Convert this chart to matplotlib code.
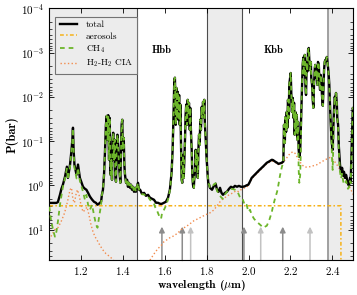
import numpy as np
import matplotlib.pyplot as plt

plt.rcParams['font.family'] = 'serif'
plt.rcParams['font.serif'] = ['cmr10']
plt.rcParams['mathtext.fontset'] = 'cm'
plt.rcParams['axes.formatter.use_mathtext'] = True

# window 1 (1.05 - 1.30 um): total and CH4 on one grid
w1_lam = [1.050, 1.058, 1.068, 1.077, 1.084, 1.091, 1.101, 1.108, 1.115, 1.125, 1.134,
          1.139, 1.149, 1.156, 1.160, 1.163, 1.166, 1.170, 1.180, 1.187, 1.196, 1.211,
          1.220, 1.227, 1.235, 1.244, 1.254, 1.263, 1.273, 1.280, 1.287, 1.297, 1.301]
w1_tot = [2.5, 2.5, 2.5, 2.5, 2.5, 2.4, 1.64, 1.2, 0.97, 0.64, 0.38,
          0.68, 0.34, 0.16, 0.094, 0.05, 0.16, 0.34, 0.58, 0.34, 0.68, 1.08,
          1.2, 1.26, 1.48, 1.8, 2.1, 2.35, 2.5, 2.75, 2.6, 2.35, 1.64]
w1_ch4 = [3.06, 6.0, 10.1, 14.5, 11.2, 6.7, 2.76, 1.73, 1.08, 0.7, 0.42,
          0.75, 0.38, 0.17, 0.1, 0.052, 0.17, 0.4, 0.7, 0.4, 0.8, 1.4,
          2.12, 1.64, 2.76, 3.57, 2.76, 4.63, 7.8, 9.1, 5.4, 2.76, 1.64]

# 1.4 um methane band (total == CH4)
b1_lam = [1.306, 1.311, 1.316, 1.320, 1.324, 1.328, 1.331, 1.335, 1.338, 1.342, 1.346,
          1.349, 1.352, 1.355, 1.359, 1.362, 1.365, 1.368, 1.371, 1.375, 1.379, 1.382,
          1.386, 1.389, 1.392, 1.395, 1.398, 1.401, 1.405, 1.408, 1.411, 1.416, 1.421,
          1.425, 1.430, 1.435, 1.440, 1.444, 1.449, 1.454, 1.459, 1.463, 1.468, 1.473]
b1_p = [1.26, 0.58, 0.158, 0.043, 0.027, 0.094, 0.026, 0.265, 0.030, 0.58, 0.265,
        0.75, 0.094, 0.065, 0.265, 0.094, 0.58, 0.83, 0.158, 0.072, 0.135, 0.344,
        0.58, 0.88, 0.158, 0.043, 0.033, 0.158, 0.085, 0.344, 0.58, 0.88, 0.75,
        1.08, 0.88, 1.14, 0.97, 1.26, 1.08, 1.40, 1.14, 1.40, 1.08, 0.88]

# window 2 (H band continuum)
w2_lam = [1.478, 1.483, 1.492, 1.502, 1.511, 1.521, 1.530, 1.540, 1.549, 1.554, 1.559,
          1.564, 1.568, 1.573, 1.578, 1.583, 1.587, 1.597, 1.606, 1.616, 1.625, 1.633, 1.638]
w2_tot = [1.26, 1.26, 1.56, 1.48, 1.73, 1.64, 1.91, 2.02, 2.12, 2.3, 2.48,
          2.48, 2.48, 2.55, 2.62, 2.62, 2.62, 2.48, 2.36, 1.91, 1.26, 0.52, 0.158]
w2_ch4 = [1.26, 1.33, 1.6, 1.6, 1.82, 1.8, 2.12, 2.3, 2.6, 3.06, 3.4,
          3.76, 4.2, 4.88, 5.5, 5.7, 4.4, 3.57, 2.9, 2.12, 1.33, 0.55, 0.158]

# 1.7 um methane band
bh_lam = [1.643, 1.646, 1.649, 1.653, 1.656, 1.659, 1.662, 1.665, 1.669, 1.672, 1.675,
          1.678, 1.681, 1.684, 1.688, 1.691, 1.694, 1.697, 1.700, 1.703, 1.707, 1.710,
          1.713, 1.716, 1.720, 1.722, 1.726, 1.729, 1.732, 1.735, 1.739, 1.741, 1.745,
          1.748, 1.751, 1.754, 1.758, 1.761, 1.764, 1.767, 1.770, 1.773, 1.777, 1.780,
          1.783, 1.786, 1.789, 1.792, 1.796, 1.799, 1.802, 1.805, 1.808, 1.812]
bh_p = [0.0198, 0.0042, 0.0037, 0.043, 0.0063, 0.030, 0.0077, 0.033, 0.0091, 0.043, 0.015,
        0.094, 0.75, 0.88, 0.205, 0.68, 0.265, 0.094, 0.0256, 0.015, 0.043, 0.0117,
        0.0256, 0.0137, 0.056, 0.0178, 0.072, 0.158, 0.58, 0.97, 1.14, 0.75, 0.447,
        0.158, 0.344, 0.205, 0.68, 0.158, 0.072, 0.122, 0.033, 0.056, 0.0169, 0.030,
        0.013, 0.0256, 0.0117, 0.043, 0.094, 0.205, 0.344, 0.58, 0.88, 0.97]

# window 3 (K band continuum)
w3_lam = [1.816, 1.826, 1.835, 1.843, 1.850, 1.857, 1.864, 1.871, 1.878, 1.888, 1.897,
          1.907, 1.916, 1.926, 1.935, 1.945, 1.954, 1.964, 1.973, 1.983, 1.991, 1.999,
          2.007, 2.015, 2.026, 2.039, 2.050, 2.063, 2.071, 2.079, 2.087, 2.098, 2.111,
          2.117, 2.126, 2.136, 2.142, 2.150, 2.158, 2.166]
w3_tot = [1.14, 1.26, 1.03, 0.92, 1.26, 1.40, 1.14, 1.48, 1.64, 1.48, 1.40,
          1.2, 1.08, 1.14, 1.03, 1.08, 1.03, 1.08, 1.08, 1.05, 1.0, 0.97,
          0.82, 0.68, 0.6, 0.52, 0.46, 0.40, 0.37, 0.34, 0.31, 0.29, 0.265,
          0.27, 0.29, 0.31, 0.327, 0.32, 0.31, 0.29]
w3_ch4 = [1.14, 1.1, 0.95, 0.9, 1.35, 1.5, 1.73, 1.9, 2.02, 1.6, 1.4,
          1.26, 1.2, 1.22, 1.26, 1.33, 1.64, 2.12, 2.12, 2.9, 2.76, 3.96,
          3.57, 4.63, 5.7, 6.7, 7.4, 8.4, 9.1, 8.6, 8.2, 6.3, 4.0,
          2.9, 2.02, 1.4, 1.0, 0.6, 0.4, 0.29]

# 2.2 - 2.4 um methane band
k1_lam = [2.169, 2.173, 2.175, 2.179, 2.182, 2.185, 2.188, 2.192, 2.194, 2.198, 2.201,
          2.204, 2.207, 2.211, 2.214, 2.217, 2.220, 2.223, 2.226, 2.230, 2.233, 2.236]
k1_p = [0.043, 0.11, 0.029, 0.062, 0.022, 0.050, 0.0117, 0.030, 0.0054, 0.0037, 0.0029,
        0.0091, 0.022, 0.0106, 0.030, 0.0137, 0.072, 0.022, 0.065, 0.0256, 0.094, 0.037]
wk_lam = [2.239, 2.242, 2.246, 2.249]
wk_tot = [0.158, 0.227, 0.175, 0.056]
wk_ch4 = [0.45, 0.88, 0.6, 0.2]
k2_lam = [2.252, 2.255, 2.258, 2.261, 2.265, 2.268, 2.271, 2.274, 2.277, 2.280, 2.284,
          2.287, 2.290, 2.293, 2.297, 2.299, 2.303, 2.306, 2.309, 2.312, 2.316, 2.318,
          2.322, 2.325, 2.328, 2.331, 2.335, 2.338, 2.341, 2.344, 2.347, 2.350, 2.354,
          2.357, 2.360, 2.363, 2.366, 2.369, 2.373, 2.376, 2.379, 2.382, 2.385, 2.389,
          2.392, 2.395]
k2_p = [0.015, 0.0054, 0.0019, 0.0013, 0.0032, 0.00113, 0.0054, 0.0091, 0.00163, 0.0027, 0.00087,
        0.00079, 0.00163, 0.0025, 0.00163, 0.0037, 0.0054, 0.0117, 0.0178, 0.0054, 0.0022, 0.0019,
        0.0037, 0.0027, 0.0054, 0.00163, 0.0019, 0.0047, 0.0070, 0.0032, 0.0042, 0.0091, 0.016,
        0.0070, 0.0025, 0.00163, 0.00147, 0.00163, 0.00126, 0.00163, 0.0022, 0.0032, 0.0054, 0.0198,
        0.043, 0.085]
wk2_lam = [2.398, 2.401, 2.404, 2.408, 2.411, 2.414, 2.417, 2.421, 2.423, 2.427, 2.430,
           2.433, 2.436, 2.441, 2.446, 2.451, 2.455, 2.460, 2.465, 2.470, 2.474, 2.479,
           2.484, 2.487, 2.490, 2.493, 2.497, 2.500]
wk2_tot = [0.122, 0.158, 0.050, 0.0178, 0.010, 0.0117, 0.0082, 0.015, 0.030, 0.043, 0.122,
           0.205, 0.344, 0.496, 0.403, 0.61, 0.496, 0.68, 0.58, 0.75, 0.92, 1.03,
           0.68, 0.83, 0.265, 0.094, 0.0178, 0.0198]
wk2_ch4 = [0.25, 0.45, 0.12, 0.025, 0.010, 0.0117, 0.0082, 0.015, 0.030, 0.05, 0.16,
           0.3, 0.5, 0.7, 0.55, 0.8, 0.95, 0.9, 0.8, 1.0, 1.2, 1.1,
           0.8, 0.9, 0.3, 0.1, 0.0178, 0.0198]

# aerosol level
aer_lam = [1.05, 2.440, 2.441]
aer_p = [2.9, 2.9, 1000.0]

# H2-H2 CIA
cia1_lam = [1.050, 1.063, 1.077, 1.091, 1.106, 1.120, 1.130, 1.139, 1.149, 1.156, 1.163,
            1.170, 1.177, 1.184, 1.192, 1.201, 1.211, 1.220, 1.230, 1.239, 1.249, 1.258,
            1.268, 1.277, 1.292, 1.306, 1.320, 1.339, 1.354, 1.368]
cia1_p = [17, 13, 10, 9.1, 6.7, 4.6, 3.2, 2.1, 1.26, 1.14, 2.1,
          2.5, 1.64, 1.26, 1.64, 2.76, 4.0, 3.6, 3.1, 4.6, 7.8, 11,
          14.5, 17, 23, 29, 35, 41, 48, 58]
cia2_lam = [1.521, 1.535, 1.554, 1.568, 1.583, 1.597, 1.611, 1.625, 1.645, 1.664, 1.683,
            1.702, 1.721, 1.740, 1.759, 1.778, 1.797, 1.816, 1.835, 1.850, 1.864, 1.878,
            1.893, 1.907, 1.926, 1.940, 1.954, 1.969, 1.983, 1.999, 2.015, 2.039, 2.063,
            2.087, 2.111, 2.126, 2.142, 2.158, 2.166, 2.182, 2.198, 2.211, 2.222, 2.237,
            2.254, 2.269, 2.293, 2.325, 2.365, 2.389, 2.404, 2.428, 2.452, 2.476, 2.500]
cia2_p = [58, 45, 33, 27, 23, 18.8, 17, 15.3, 13.8, 11.8, 9.6,
          8.6, 7.4, 6.3, 5.7, 5.1, 4.6, 4.2, 3.6, 2.9, 2.36, 2.02,
          1.82, 1.64, 1.48, 1.33, 1.40, 1.2, 1.14, 1.03, 0.71, 0.55, 0.42,
          0.327, 0.28, 0.30, 0.34, 0.327, 0.295, 0.24, 0.19, 0.175, 0.19, 0.255,
          0.344, 0.39, 0.38, 0.344, 0.265, 0.235, 0.265, 0.38, 0.63, 0.97, 1.64]

# marked wavelengths (arrows)
arrow_lam = [1.587, 1.684, 1.724, 1.978, 2.058, 2.163, 2.293]
arrow_col = ['#8c8c8c', '#8c8c8c', '#c2c2c2', '#8c8c8c', '#c2c2c2', '#8c8c8c', '#c2c2c2']

lam = np.concatenate([w1_lam, b1_lam, w2_lam, bh_lam, w3_lam, k1_lam, wk_lam, k2_lam, wk2_lam])
p_tot = np.concatenate([w1_tot, b1_p, w2_tot, bh_p, w3_tot, k1_p, wk_tot, k2_p, wk2_tot])
p_ch4 = np.concatenate([w1_ch4, b1_p, w2_ch4, bh_p, w3_ch4, k1_p, wk_ch4, k2_p, wk2_ch4])

fig = plt.figure(figsize=(3.57, 2.95), dpi=100)
ax = fig.add_axes([0.138, 0.117, 0.852, 0.855])

for a, b in [(1.05, 1.47), (1.80, 1.97), (2.38, 2.5)]:
    ax.axvspan(a, b, color='#ececec', lw=0, zorder=0)
for x, c, w in [(1.47, '0.3', 0.8), (1.80, '0.3', 0.8), (1.97, '0.3', 0.8), (2.38, '0.6', 1.3)]:
    ax.axvline(x, color=c, lw=w, zorder=0.5)

for x, c in zip(arrow_lam, arrow_col):
    ax.annotate('', xy=(x, 8.6), xytext=(x, 50),
                arrowprops=dict(arrowstyle='-|>', color=c, lw=1.1, mutation_scale=8,
                                shrinkA=0, shrinkB=0), zorder=1)

ax.plot(lam, p_tot, color='k', lw=1.7, label='total', zorder=3)
ax.plot(aer_lam, aer_p, color='#f5b21a', ls=(0, (2.5, 1.5, 1, 1.5)), lw=1.1, label='aerosols', zorder=2)
ax.plot(lam, p_ch4, color='#6cb52a', ls=(0, (2.6, 2.2)), lw=1.3, label='CH$_4$', zorder=4)
ax.plot(cia1_lam, cia1_p, color='#f28c4e', ls=':', lw=1.0, label='H$_2$-H$_2$ CIA', zorder=2)
ax.plot(cia2_lam, cia2_p, color='#f28c4e', ls=':', lw=1.0, zorder=2)

ax.set_yscale('log')
ax.set_xlim(1.05, 2.5)
ax.set_ylim(50, 1e-4)
ax.set_xticks([1.2, 1.4, 1.6, 1.8, 2.0, 2.2, 2.4])
ax.tick_params(which='both', direction='in', top=True, right=True, labelsize=8)
ax.tick_params(which='major', length=3.5, width=0.6)
ax.tick_params(which='minor', length=2, width=0.5)
for s in ax.spines.values():
    s.set_linewidth(0.8)

ax.text(1.585, 9e-4, 'Hbb', fontfamily='cmb10', fontsize=7.5, ha='center', va='center')
ax.text(2.12, 9e-4, 'Kbb', fontfamily='cmb10', fontsize=7.5, ha='center', va='center')

ax.set_xlabel('wavelength ($\\mu$m)', fontfamily='cmb10', fontsize=8.5, labelpad=0.5)
ax.set_ylabel('P(bar)', fontfamily='cmb10', fontsize=9, labelpad=2)

leg = ax.legend(loc='upper left', bbox_to_anchor=(0.005, 0.985), fontsize=6.7, fancybox=False,
                edgecolor='0.45', facecolor='#ececec', framealpha=1, handlelength=1.9,
                labelspacing=0.3, borderpad=0.45, handletextpad=0.9)
leg.get_frame().set_linewidth(0.8)

fig.savefig('out.png', dpi=100)
